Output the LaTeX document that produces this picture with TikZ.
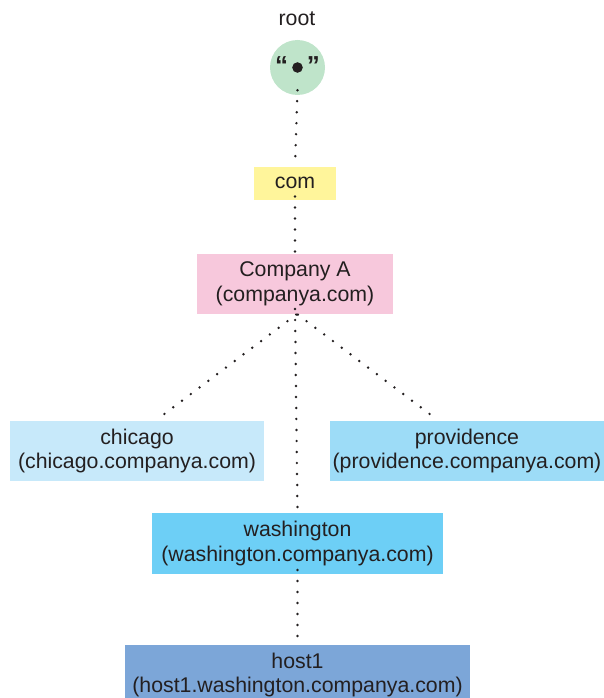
\documentclass[tikz,border=0pt]{standalone}
\usepackage{fontspec}
\setmainfont{Liberation Sans}
\begin{document}
\begin{tikzpicture}[x=1pt,y=-1pt,
  txt/.style={text=ink,font=\fontsize{21.3}{24.5}\selectfont,align=center},
  dnbox/.style={txt,inner sep=0pt,outer sep=0pt,anchor=center},
  dots/.style={draw=ink,line width=2.7pt,line cap=round,dash pattern=on 0pt off 11pt}]
\definecolor{ink}{HTML}{231F20}
\definecolor{rootgreen}{HTML}{BFE4CA}
\definecolor{comyellow}{HTML}{FFF59B}
\definecolor{copink}{HTML}{F7C8DC}
\definecolor{chiblue}{HTML}{C7E9FA}
\definecolor{provblue}{HTML}{9DDCF7}
\definecolor{washblue}{HTML}{6DCFF6}
\definecolor{hostblue}{HTML}{7CA6D8}
\useasboundingbox (0,0) rectangle (603,698);

% root of the name space
\node[txt] (rootlbl) at (297,19) {root};
\node[circle,fill=rootgreen,minimum size=55pt,inner sep=0pt] (root) at (297.5,67.5) {};
\node[text=ink,font=\fontsize{26}{28}\bfseries\selectfont,inner sep=0pt] (q) at (297.5,66) {“\hspace{19pt}”};
\fill[ink] (root.center) circle (5.3pt);

% domains
\node[dnbox,fill=comyellow,minimum width=82pt,minimum height=33pt] (com) at (295,183) {com};
\node[dnbox,fill=copink,minimum width=196pt,minimum height=60pt] (coa) at (295,284) {Company A\\(companya.com)};
\node[dnbox,fill=chiblue,minimum width=254pt,minimum height=60pt] (chi) at (137,451) {chicago\\(chicago.companya.com)};
\node[dnbox,fill=provblue,minimum width=274pt,minimum height=60pt] (prov) at (467,451) {providence\\(providence.companya.com)};
\node[dnbox,fill=washblue,minimum width=291pt,minimum height=61pt] (wash) at (297.5,543.5) {washington\\(washington.companya.com)};
\node[dnbox,fill=hostblue,minimum width=345pt,minimum height=60pt] (host) at (297.5,675) {host1\\(host1.washington.companya.com)};

% free ends of the branches to chicago and providence
\coordinate (top) at (297,314);
\coordinate (chiend) at (163,415);
\coordinate (provend) at (431,415);

% dotted links
\draw[dots] ([yshift=5pt]root.south) -- (com.north);
\draw[dots] ([yshift=3pt]com.south) -- (coa.north);
\draw[dots] ([yshift=5pt]coa.south) -- (wash.north);
\draw[dots] ([yshift=4pt]wash.south) -- (host.north);
\draw[dots,dash phase=-12pt] (top) -- (chiend);
\draw[dots,dash phase=-12pt] (top) -- (provend);
\end{tikzpicture}
\end{document}
